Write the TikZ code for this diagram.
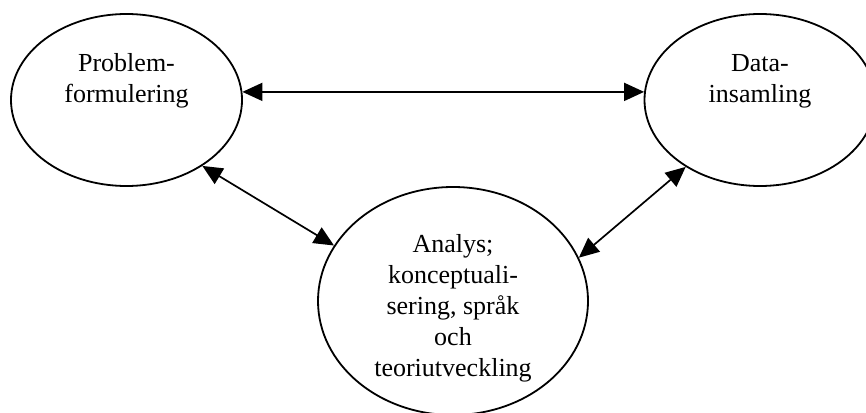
\documentclass[tikz,border=0pt]{standalone}
\usepackage{fontspec}
\setmainfont{Liberation Serif}
\usetikzlibrary{shapes.geometric,arrows.meta}

\tikzset{
  blob/.style={ellipse, draw, line width=1.8pt, inner sep=0pt, fill=none},
  label text/.style={align=center, font=\fontsize{26}{31}\selectfont, inner sep=0pt},
  link/.style={line width=1.7pt, {Triangle[length=20pt,width=18pt]}-{Triangle[length=20pt,width=18pt]}}
}

\begin{document}
\begin{tikzpicture}[x=1pt, y=-1pt]
  \clip (0,0) rectangle (866,412);
  \useasboundingbox (0,0) rectangle (866,412);

  % the three ellipses
  \node[blob, minimum width=231pt, minimum height=172pt] (L) at (126.5,100) {};
  \node[blob, minimum width=231pt, minimum height=172pt] (R) at (760,100) {};
  \node[blob, minimum width=270pt, minimum height=228pt] (B) at (453,301) {};

  % their texts
  \node[label text] (Lt) at ([yshift=19pt]L.center) {Problem-\\formulering};
  \node[label text] (Rt) at ([yshift=19pt]R.center) {Data-\\insamling};
  \node[label text] (Bt) at ([yshift=-7pt]B.center) {Analys;\\konceptuali-\\sering, språk\\och\\teoriutveckling};

  % two-way connectors
  \draw[link] (L.4) -- (R.176);
  \draw[link] (L.-41) -- (B.155);
  \draw[link] (R.-138) -- (B.19);
\end{tikzpicture}
\end{document}
